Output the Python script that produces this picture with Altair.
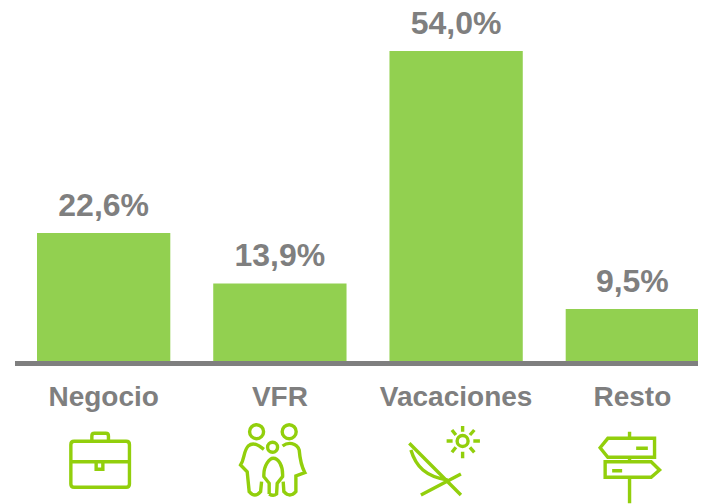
import re
import altair as alt
import pandas as pd

categories = ["Negocio", "VFR", "Vacaciones", "Resto"]
values = [22.6, 13.9, 54.0, 9.5]
labels = ["22,6%", "13,9%", "54,0%", "9,5%"]

GREEN = "#92D050"
ICON = "#92CF0C"
GREY = "#7F7F7F"
FONT = "Liberation Sans"


def icon(path, ox, cx):
    """Outline drawn at 3x around (ox, 370), re-centred on the icon slot."""
    def conv(m):
        x = float(m.group(1)) / 3 + ox - cx
        y = float(m.group(2)) / 3 + 370 - 463
        return f"{x:.1f},{y:.1f}"
    return re.sub(r"(-?[\d.]+),(-?[\d.]+)", conv, path)


def circle(x, y, r):
    return f"M{x - r * 3},{y} A{r} {r} 0 1 0 {x + r * 3},{y} A{r} {r} 0 1 0 {x - r * 3},{y} "


briefcase = icon(
    "M222,214 L378,214 Q388,214 388,224 L388,342 Q388,352 378,352 L222,352 "
    "Q212,352 212,342 L212,224 Q212,214 222,214 Z "
    "M212,275 L388,275 "
    "M275,214 L275,198 Q275,190 283,190 L317,190 Q325,190 325,198 L325,214 "
    "M288,275 L288,298 L308,298 L308,275",
    0, 103.5,
)
family = icon(
    circle(770, 185, 7) + circle(868, 185, 7) + circle(818, 232, 5) +
    "M792,238 C775,225 760,215 745,228 C730,245 735,265 722,285 L742,305 "
    "L748,365 Q765,385 782,365 L785,335 "
    "M808,372 L808,340 L792,320 C790,285 810,265 820,265 C835,265 850,285 848,320 "
    "L832,340 L830,372 Q820,380 808,372 "
    "M848,228 C865,215 890,218 898,240 C900,265 905,290 915,308 L888,318 "
    "L888,365 Q870,385 852,365 L850,335",
    0, 280,
)
chair = icon(
    "M170,220 L325,375 M205,375 L325,312 "
    "M175,240 C190,290 220,320 285,330 " + circle(330, 213, 5.5) +
    "M330,168 L330,185 M330,245 L330,265 M282,213 L300,213 M362,213 L382,213 "
    "M298,180 L310,195 M365,180 L352,195 M298,247 L310,232 M365,247 L352,232",
    353, 456.5,
)
signpost = icon(
    "M830,185 L830,205 M830,262 L830,275 M830,322 L830,400 "
    "M905,205 L765,205 L742,233 L765,262 L905,262 Z "
    "M757,275 L895,275 L920,300 L895,322 L757,322 Z "
    "M850,235 L885,235 M778,302 L808,302",
    353, 632.5,
)
icons = [briefcase, family, chair, signpost]

df = pd.DataFrame({"cat": categories, "val": values, "lab": labels})

x = alt.X(
    "cat:N",
    sort=categories,
    scale=alt.Scale(range=[29, 691], paddingInner=0.2436, paddingOuter=0),
    axis=alt.Axis(
        title=None, domain=False, ticks=False, labelAngle=0, labelFont=FONT,
        labelFontSize=28, labelFontWeight="bold", labelColor=GREY, labelPadding=22,
    ),
)
y = alt.Y(
    "val:Q",
    scale=alt.Scale(domain=[0.53, 61.4], nice=False, zero=False),
    axis=None,
)

bars = alt.Chart(df).mark_bar(color=GREEN).encode(x=x, y=y, y2=alt.Y2(datum=0.53))
text = alt.Chart(df).mark_text(
    font=FONT, fontSize=32, fontWeight="bold", color=GREY, dy=-17, baseline="alphabetic",
).encode(x=x, y=y, text="lab:N")
base = alt.Chart(df.head(1)).mark_rule(color=GREY, strokeWidth=5).encode(
    x=alt.value(7), x2=alt.value(690), y=alt.value(355.5),
)
pics = alt.Chart(df).mark_point(filled=False, size=4, strokeWidth=3.4, color=ICON, opacity=1).encode(
    x=x,
    y=alt.value(455),
    shape=alt.Shape("cat:N", scale=alt.Scale(domain=categories, range=icons), legend=None),
)

chart = (bars + base + text + pics).properties(
    width=690,
    height=353,
    padding={"left": 0, "top": 0, "right": 0, "bottom": 143},
    autosize=alt.AutoSizeParams(type="none"),
).configure_view(stroke=None)

chart.save("out.html", embed_options={"renderer": "svg", "actions": False})
